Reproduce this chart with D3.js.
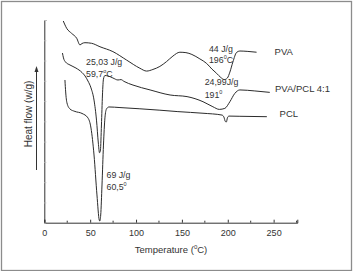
<!DOCTYPE html>
<html>
<head>
<meta charset="utf-8">
<script src="https://cdn.jsdelivr.net/npm/d3@7"></script>
<style>
  html, body { margin: 0; padding: 0; background: #fff; }
  svg text { font-family: "Liberation Sans", Arial, sans-serif; fill: #333; }
</style>
</head>
<body>
<svg id="chart" width="356" height="271"></svg>
<script>
// temperature (°C), heat flow (arbitrary units, curves are offset)
const pvaTemp = [20.7, 24.4, 29.8, 35.3, 38.9, 41.1, 44.3, 51.6, 60.7, 74.8, 89.8, 104.2, 111.5, 118.4, 126.0, 133.3, 140.2, 147.8, 154.4, 160.9, 169.6, 176.9, 182.7, 187.8, 192.5, 196.3, 199.6, 202.3, 205.6, 209.6, 213.2, 221.9, 231.4];
const pvaHeat = [99.5, 95.9, 93.4, 91.0, 87.7, 88.4, 88.8, 88.5, 86.8, 84.4, 80.2, 76.2, 74.8, 75.6, 77.1, 79.5, 82.2, 84.1, 83.9, 83.0, 80.8, 78.6, 75.8, 73.7, 71.6, 70.6, 71.4, 74.3, 79.3, 84.0, 84.7, 84.5, 84.1];

const blendTemp = [19.8, 20.9, 23.1, 28.0, 34.5, 41.1, 44.4, 47.6, 50.9, 54.2, 56.9, 58.9, 60.2, 61.2, 62.3, 63.4, 64.5, 66.1, 69.4, 74.8, 80.3, 83.6, 86.9, 96.7, 115.3, 137.1, 155.6, 173.0, 183.8, 190.8, 196.8, 202.3, 207.7, 213.2, 229.5, 245.8];
const blendHeat = [83.7, 81.3, 79.3, 77.8, 76.3, 74.1, 72.4, 69.9, 66.5, 60.5, 50.6, 39.3, 34.5, 35.9, 48.2, 63.0, 70.9, 72.6, 72.4, 71.4, 70.4, 70.6, 69.7, 67.9, 65.5, 63.0, 62.2, 59.7, 57.2, 55.9, 56.4, 59.7, 63.8, 65.5, 65.0, 64.3];

const pclTemp = [22.5, 23.3, 24.7, 28.0, 33.4, 41.1, 47.6, 50.9, 54.2, 57.4, 59.9, 60.5, 61.5, 62.9, 64.5, 66.1, 67.8, 70.5, 82.5, 104.2, 126.0, 145.6, 173.0, 193.7, 195.8, 197.4, 198.5, 199.6, 201.3, 213.2, 242.6];
const pclHeat = [70.4, 64.5, 59.1, 56.1, 54.9, 53.9, 51.7, 46.7, 33.4, 13.7, 1.3, 0.8, 3.8, 18.6, 38.3, 51.7, 56.1, 57.1, 56.8, 56.2, 55.5, 54.8, 54.0, 53.1, 52.1, 49.9, 49.7, 51.7, 52.6, 52.5, 52.3];

const xTicks = [0, 50, 100, 150, 200, 250];
const xMinorTicks = [25, 75, 125, 175, 225, 275];

// series names placed at the right end of each curve
const seriesLabels = [
  { name: 'PVA', t: 251, h: 84.4 },
  { name: 'PVA/PCL 4:1', t: 251.5, h: 66.3 },
  { name: 'PCL', t: 256.5, h: 53.9 }
];
// peak notes: each line is [text, superscript, tail]
const peakNotes = [
  { lines: [['44 J/g', '', ''], ['196', '0', 'C']], t: 179.5, h: 84.1, gap: 10.7 },
  { lines: [['24,99J/g', '', ''], ['191', '0', '']], t: 174.8, h: 68.1, gap: 13.3 },
  { lines: [['25,03 J/g', '', ''], ['59,7', 'o', 'C']], t: 45.5, h: 77.9, gap: 12.3 },
  { lines: [['69 J/g', '', ''], ['60,5', '0', '']], t: 67.8, h: 22.1, gap: 12.3 }
];

const svg = d3.select('#chart');

const x = d3.scaleLinear().domain([0, 275.8]).range([44.3, 297.3]);
const y = d3.scaleLinear().domain([0, 100]).range([222.7, 20]);

// outer frame
svg.append('rect')
  .attr('x', 1.5).attr('y', 1.5)
  .attr('width', 350).attr('height', 269)
  .attr('fill', 'none').attr('stroke', '#8c8c8c').attr('stroke-width', 1.3);

// x axis, ticks pointing inward
const xAxis = svg.append('g').attr('transform', `translate(0,${y(0)})`);
xAxis.call(d3.axisBottom(x).tickValues(xTicks).tickSize(-3).tickPadding(7).tickFormat(d3.format('d')));
xAxis.append('g').selectAll('line')
  .data(xMinorTicks)
  .join('line')
  .attr('x1', (d) => x(d)).attr('x2', (d) => x(d))
  .attr('y1', 0).attr('y2', -2)
  .attr('stroke', '#333');
xAxis.select('.domain').attr('stroke', '#333');
xAxis.selectAll('.tick line').attr('stroke', '#333');
xAxis.selectAll('.tick text')
  .attr('font-size', 9)
  .attr('font-family', '"Liberation Sans", Arial, sans-serif')
  .attr('fill', '#333');

// y axis, no labels
const yAxis = svg.append('g').attr('transform', `translate(${x(0)},0)`);
yAxis.call(d3.axisLeft(y).ticks(10).tickSize(-2).tickFormat(''));
yAxis.select('.domain').attr('stroke', '#333');
yAxis.selectAll('.tick line').attr('stroke', '#bbb');

// axis titles
const xTitle = svg.append('text')
  .attr('x', 171).attr('y', 253)
  .attr('text-anchor', 'middle')
  .attr('font-size', 9.5);
xTitle.append('tspan').text('Temperature (');
xTitle.append('tspan').attr('font-size', 6).attr('dy', -4).text('0');
xTitle.append('tspan').attr('dy', 4).text('C)');

svg.append('text')
  .attr('transform', 'translate(31.5,114) rotate(-90)')
  .attr('text-anchor', 'middle')
  .attr('font-size', 10)
  .text('Heat flow (w/g)');

// arrow next to y title
svg.append('line')
  .attr('x1', 36.5).attr('x2', 36.5)
  .attr('y1', 71).attr('y2', 170)
  .attr('stroke', '#333').attr('stroke-width', 1);
svg.append('path')
  .attr('d', 'M36.5,66L34.5,72L38.5,72Z')
  .attr('fill', '#333');

// curves
const line = d3.line()
  .x((d) => x(d[0]))
  .y((d) => y(d[1]))
  .curve(d3.curveMonotoneX);

const curves = [
  d3.zip(pvaTemp, pvaHeat),
  d3.zip(blendTemp, blendHeat),
  d3.zip(pclTemp, pclHeat)
];

svg.append('g').selectAll('path')
  .data(curves)
  .join('path')
  .attr('d', line)
  .attr('fill', 'none')
  .attr('stroke', '#2b2b2b')
  .attr('stroke-width', 1);

// series names
svg.append('g').selectAll('text')
  .data(seriesLabels)
  .join('text')
  .attr('x', (d) => x(d.t))
  .attr('y', (d) => y(d.h))
  .attr('dy', '0.35em')
  .attr('font-size', 9.5)
  .text((d) => d.name);

// peak annotations
peakNotes.forEach((note) => {
  note.lines.forEach((ln, i) => {
    const t = svg.append('text')
      .attr('x', x(note.t))
      .attr('y', y(note.h) + i * note.gap)
      .attr('font-size', 8.8);
    t.append('tspan').text(ln[0]);
    if (ln[1]) {
      t.append('tspan').attr('font-size', 5.5).attr('dy', -3.8).text(ln[1]);
      if (ln[2]) t.append('tspan').attr('dy', 3.8).text(ln[2]);
    }
  });
});
</script>
</body>
</html>
